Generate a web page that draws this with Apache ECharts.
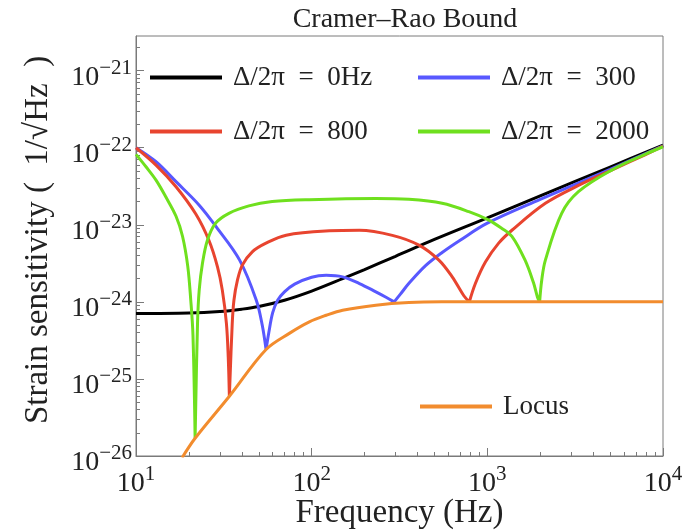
<!DOCTYPE html>
<html>
<head>
<meta charset="utf-8">
<script src="https://cdn.jsdelivr.net/npm/echarts@6/dist/echarts.min.js"></script>
<style>
  html, body { margin: 0; background: #fff; }
  #chart { width: 689px; height: 530px; }
</style>
</head>
<body>
<div id="chart"></div>
<script>
// values: frequency in Hz, strain sensitivity in 1/sqrt(Hz)
const blackFreq = [10, 20, 30, 40, 50, 70, 100, 150, 200, 300, 500, 1000, 2000, 5000, 10000];
const blackVal  = [7.05e-25, 7.16e-25, 7.5e-25, 8.04e-25, 8.7e-25, 1.05e-24, 1.38e-24, 2.0e-24, 2.63e-24, 3.9e-24, 6.45e-24, 1.23e-23, 2.37e-23, 5.62e-23, 1.08e-22];

const blueFreq  = [10, 13, 16.9, 22.9, 28.7, 38.9, 48.4, 52.3, 55, 57, 60, 64, 70, 80, 100, 121, 150, 187, 232, 265, 295, 320, 358, 445, 553, 700, 1000, 2000, 5000, 10000];
const blueVal   = [1.0e-22, 6.58e-23, 3.63e-23, 1.8e-23, 9.33e-24, 3.48e-24, 1.05e-24, 5.0e-25, 2.4e-25, 3.98e-25, 7.24e-25, 1.05e-24, 1.35e-24, 1.7e-24, 2.09e-24, 2.21e-24, 2.11e-24, 1.73e-24, 1.35e-24, 1.15e-24, 1.0e-24, 1.26e-24, 1.74e-24, 2.95e-24, 4.37e-24, 6.31e-24, 1.05e-23, 2.14e-23, 5.25e-23, 1.06e-22];
const blueCusps = [55, 295];

const redFreq   = [10, 13, 16.9, 21.9, 26, 29.1, 31, 32.7, 33.5, 34, 35.3, 36.1, 37.8, 40.3, 45.9, 54.6, 71.6, 126, 187, 288, 408, 530, 631, 735, 790, 855, 975, 1160, 1380, 2140, 3300, 5100, 7900, 10000];
const redVal    = [1.0e-22, 5.96e-23, 3.12e-23, 1.38e-23, 6.3e-24, 2.85e-24, 1.42e-24, 5.3e-25, 1.93e-25, 5.96e-26, 5.2e-25, 1.05e-24, 1.91e-24, 3.0e-24, 4.46e-24, 5.73e-24, 7.34e-24, 8.35e-24, 8.5e-24, 7.3e-24, 5.45e-24, 3.48e-24, 2.11e-24, 1.2e-24, 1.0e-24, 1.73e-24, 3.28e-24, 5.78e-24, 8.5e-24, 1.9e-23, 3.24e-23, 5.13e-23, 8.1e-23, 1.05e-22];
const redCusps  = [34, 790];

const greenFreq = [10, 11.4, 13, 14.8, 16.9, 18.4, 19.7, 20.5, 21.1, 21.7, 22.4, 22.9, 23.9, 25.5, 28.4, 33.8, 43.9, 59.6, 97, 232, 358, 553, 785, 1020, 1210, 1380, 1640, 1830, 1930, 1985, 2040, 2140, 2650, 3300, 5100, 7900, 10000];
const greenVal  = [8.2e-23, 5.66e-23, 3.8e-23, 2.29e-23, 1.29e-23, 7.1e-24, 2.91e-24, 1.05e-24, 3.7e-25, 1.7e-26, 5.3e-25, 1.42e-24, 3.16e-24, 6.3e-24, 1.05e-23, 1.41e-23, 1.76e-23, 2.0e-23, 2.12e-23, 2.2e-23, 2.14e-23, 1.9e-23, 1.48e-23, 1.15e-23, 8.97e-24, 7.1e-24, 3.48e-24, 1.78e-24, 1.15e-24, 1.0e-24, 1.91e-24, 3.48e-24, 1.41e-23, 2.69e-23, 5.13e-23, 8.2e-23, 1.03e-22];
const greenCusps = [21.7, 1985];

const locusFreq = [18.3, 21.7, 34, 55, 75, 97, 121, 150, 232, 358, 550, 1000, 10000];
const locusVal  = [0.95e-26, 1.7e-26, 5.96e-26, 2.41e-25, 3.93e-25, 5.5e-25, 6.7e-25, 7.8e-25, 9.06e-25, 9.8e-25, 1.0e-24, 1.0e-24, 1.0e-24];

const xDecades = [1, 2, 3, 4];            // 10^1 .. 10^4 Hz
const yDecades = [-26, -25, -24, -23, -22, -21];
const yTop = -20.55;

const names = ['Δ/2π\u2002=\u20020Hz', 'Δ/2π\u2002=\u2002300', 'Δ/2π\u2002=\u2002800', 'Δ/2π\u2002=\u20022000', 'Locus'];
const colors = ['#000000', '#5858ff', '#e8442f', '#6fe01e', '#f28c2e'];

// log10 both coordinates; break the line at the cusps so each lobe is smoothed on its own
function toLine(freq, val, cusps) {
  const out = [];
  freq.forEach((f, i) => {
    const p = [Math.log10(f), Math.log10(val[i])];
    out.push(p);
    if (cusps.includes(f)) {
      out.push([p[0], '-']);
      out.push(p);
    }
  });
  return out;
}

function minorTicks(lo, hi) {
  const t = [];
  for (let n = Math.floor(lo); n < hi; n++) {
    for (let k = 2; k <= 9; k++) {
      const v = n + Math.log10(k);
      if (v > lo && v < hi) t.push(v);
    }
  }
  return t;
}

const serif = 'Liberation Serif, DejaVu Serif, serif';
const gray = '#7a7a7a';
const rich = {
  b: { fontSize: 28, fontFamily: serif, color: '#222', lineHeight: 34, verticalAlign: 'bottom' },
  s: { fontSize: 21, fontFamily: serif, color: '#222', lineHeight: 14, verticalAlign: 'top' }
};
const powLabel = v => '{b|10}{s|' + (v < 0 ? '\u2212' + (-v) : v) + '}';

const chart = echarts.init(document.getElementById('chart'));

const lines = [
  toLine(blackFreq, blackVal, []),
  toLine(blueFreq, blueVal, blueCusps),
  toLine(redFreq, redVal, redCusps),
  toLine(greenFreq, greenVal, greenCusps),
  toLine(locusFreq, locusVal, [])
];

function legendAt(name, left, top) {
  return {
    data: [name], left: left, top: top,
    icon: 'rect', itemWidth: 72, itemHeight: 4,
    textStyle: { fontSize: 27, fontFamily: serif, color: '#222', padding: [0, 0, 0, 6] }
  };
}

const option = {
  animation: false,
  backgroundColor: '#fff',
  title: {
    text: 'Cramer\u2013Rao Bound',
    left: 400, top: 1, textAlign: 'center',
    textStyle: { fontSize: 28, fontFamily: serif, fontWeight: 'normal', color: '#222' }
  },
  legend: [
    legendAt(names[0], 145, 59),
    legendAt(names[1], 413, 59),
    legendAt(names[2], 145, 113),
    legendAt(names[3], 413, 113),
    legendAt(names[4], 415, 388)
  ],
  grid: {
    left: 136, right: 26, top: 36, bottom: 74,
    outerBoundsMode: 'none',
    show: true, borderColor: gray, borderWidth: 1, backgroundColor: 'transparent'
  },
  xAxis: [
    {
      type: 'value', min: 1, max: 4, position: 'bottom',
      name: 'Frequency (Hz)', nameLocation: 'middle', nameGap: 41, nameMoveOverlap: false,
      nameTextStyle: { fontSize: 33, fontFamily: serif, color: '#222' },
      axisLine: { show: true, lineStyle: { color: gray, width: 1 } },
      axisTick: { show: true, inside: true, length: 8, customValues: xDecades, lineStyle: { color: gray } },
      axisLabel: { customValues: xDecades, formatter: powLabel, rich: rich, margin: 8 },
      splitLine: { show: false }
    },
    {
      type: 'value', min: 1, max: 4, position: 'bottom',
      axisLine: { show: false },
      axisTick: { show: true, inside: true, length: 4, customValues: minorTicks(1, 4), lineStyle: { color: gray } },
      axisLabel: { show: false },
      splitLine: { show: false }
    }
  ],
  yAxis: [
    {
      type: 'value', min: -26, max: yTop, position: 'left',
      name: 'Strain sensitivity (\u20021/\u221AHz\u2002)', nameLocation: 'middle', nameGap: 81,
      nameTextStyle: { fontSize: 33, fontFamily: serif, color: '#222', padding: [0, 0, 0, 12] },
      axisLine: { show: true, lineStyle: { color: gray, width: 1 } },
      axisTick: { show: true, inside: true, length: 8, customValues: yDecades, lineStyle: { color: gray } },
      axisLabel: { customValues: yDecades, formatter: powLabel, rich: rich, margin: 4, padding: [8, 0, 0, 0] },
      splitLine: { show: false }
    },
    {
      type: 'value', min: -26, max: yTop, position: 'left',
      axisLine: { show: false },
      axisTick: { show: true, inside: true, length: 4, customValues: minorTicks(-26, yTop), lineStyle: { color: gray } },
      axisLabel: { show: false },
      splitLine: { show: false }
    }
  ],
  series: lines.map((data, i) => ({
    name: names[i],
    type: 'line',
    data: data,
    xAxisIndex: 0,
    yAxisIndex: 0,
    showSymbol: false,
    symbol: 'none',
    smooth: 0.35,
    connectNulls: false,
    clip: true,
    color: colors[i],
    lineStyle: { color: colors[i], width: 3 }
  }))
};

chart.setOption(option);
</script>
</body>
</html>
